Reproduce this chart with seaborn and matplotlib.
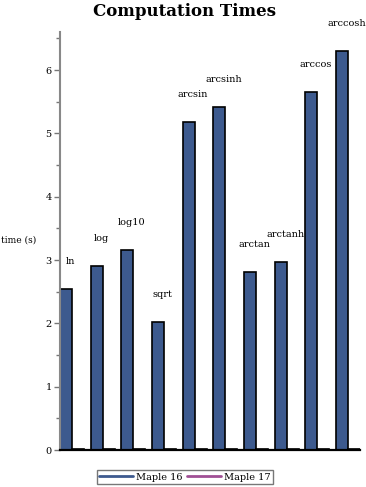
import pandas as pd
import numpy as np
import seaborn as sb
import matplotlib.pyplot as plt
from matplotlib.lines import Line2D

functions = ['ln', 'log', 'log10', 'sqrt', 'arcsin', 'arcsinh',
             'arctan', 'arctanh', 'arccos', 'arccosh']
maple16 = [2.54, 2.91, 3.16, 2.02, 5.18, 5.42, 2.81, 2.97, 5.65, 6.30]
maple17 = [0.01, 0.01, 0.02, 0.01, 0.01, 0.01, 0.01, 0.01, 0.01, 0.01]
versions = ['Maple 16', 'Maple 17']
colours = ['#3d5a8e', '#a04f95']

Data = pd.DataFrame({
    'function': functions * 2,
    'version': [versions[0]] * len(functions) + [versions[1]] * len(functions),
    'time': maple16 + maple17,
})

sb.set_style("white")
plt.rcParams['font.family'] = ['DejaVu Serif']
plt.rcParams['text.color'] = 'black'
plt.rcParams['ytick.labelcolor'] = 'black'

fig = plt.figure(figsize=(3.66, 4.87), dpi=100)
ax = fig.add_axes([60/366, 37/487, 300/366, 418/487])

sb.barplot(data=Data, x='function', y='time', hue='version', order=functions,
           hue_order=versions, palette=colours, width=0.78, edgecolor='black',
           linewidth=1.2, saturation=1, ax=ax, legend=False)

# labels above each group
for i, (name, val) in enumerate(zip(functions, maple16)):
    ax.text(i - 0.05, val + 0.36, name, ha='center', va='bottom', fontsize=7,
            color='black')

ax.set(xlim=(-0.39, 9.39), ylim=(0, 6.6), xlabel='', ylabel='')
ax.set_xticks([])
ax.set_yticks(range(7))
ax.set_yticks(np.arange(0.5, 6.6, 1.0), minor=True)
ax.tick_params(axis='y', which='both', direction='out', left=True,
               color='#777777', labelsize=7, labelcolor='black', pad=2)
ax.tick_params(axis='y', which='major', length=4, width=1)
ax.tick_params(axis='y', which='minor', length=3, width=1)

for side in ['top', 'right']:
    ax.spines[side].set_visible(False)
ax.spines['left'].set_color('#888888')
ax.spines['left'].set_linewidth(1.5)
ax.spines['bottom'].set_color('black')
ax.spines['bottom'].set_linewidth(1.6)

fig.text(0.505, 1 - 11/487, 'Computation Times', ha='center', va='center',
         fontsize=12, fontweight='bold', color='black')
fig.text(0.003, 1 - 240/487, 'time (s)', ha='left', va='center', fontsize=6.5,
         color='black')

handles = [Line2D([0], [0], color=c, lw=2) for c in colours]
leg = fig.legend(handles, versions, loc='center', bbox_to_anchor=(0.505, 1 - 477/487),
                 ncol=2, fontsize=7, frameon=True, fancybox=False, handlelength=3.5,
                 handletextpad=0.3, columnspacing=0.4, borderpad=0.25)
leg.get_frame().set_edgecolor('#555555')
leg.get_frame().set_linewidth(1)
for t in leg.get_texts():
    t.set_color('black')

fig.savefig('out.png', dpi=100)
